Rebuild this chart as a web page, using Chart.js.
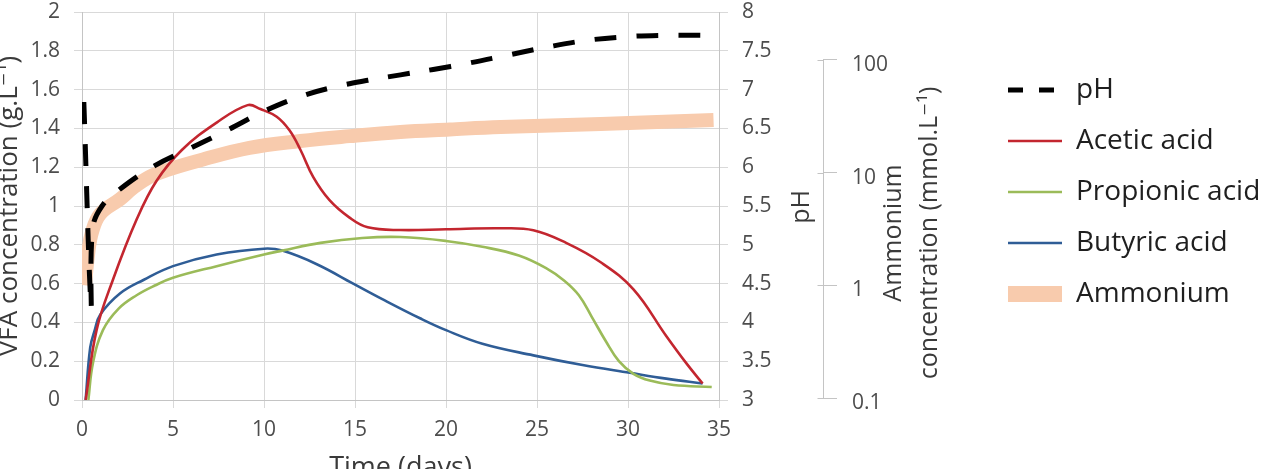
<!DOCTYPE html>
<html>
<head>
<meta charset="utf-8">
<script src="https://cdn.jsdelivr.net/npm/chart.js@4.4.1/dist/chart.umd.min.js"></script>
<style>
  html, body { margin: 0; padding: 0; background: #fff; }
  #frame { width: 1269px; height: 469px; overflow: hidden; }
  #box { width: 1269px; height: 490px; }
</style>
</head>
<body>
<div id="frame"><div id="box"><canvas id="myChart"></canvas></div></div>
<script>
// series (x = days)
const seriesLabels = ['pH', 'Acetic acid', 'Propionic acid', 'Butyric acid', 'Ammonium'];

const phDays = [0.1, 0.5, 0.58, 1.1, 2.1, 4.0, 6.0, 8.0, 10.0, 12.0, 13.8, 15.7, 17.5, 19.3, 21.2, 23.3, 25.4, 27.6, 29.8, 32.1, 34.5];
const phValues = [6.84, 4.2, 5.2, 5.5, 5.72, 6.02, 6.25, 6.48, 6.72, 6.91, 7.03, 7.12, 7.19, 7.26, 7.34, 7.44, 7.54, 7.63, 7.68, 7.7, 7.7];

const aceticDays = [0.2, 0.8, 1.7, 3.0, 4.1, 5.5, 7.4, 9.1, 9.8, 10.7, 11.4, 12.0, 12.7, 13.6, 14.7, 15.7, 17.5, 20, 23, 24.8, 26.6, 28.5, 30.3, 32.1, 33.2, 34.1];
const aceticValues = [0, 0.36, 0.62, 0.93, 1.13, 1.29, 1.43, 1.52, 1.5, 1.46, 1.39, 1.29, 1.15, 1.03, 0.94, 0.89, 0.876, 0.88, 0.885, 0.875, 0.81, 0.71, 0.57, 0.33, 0.19, 0.085];

const propionicDays = [0.35, 0.6, 1.15, 2.0, 3.0, 4.0, 5.0, 7.4, 10, 11, 13.1, 15.4, 17.5, 20, 22, 24, 25.5, 26.5, 27.3, 28.0, 28.8, 29.5, 30.3, 31.2, 32.5, 34.6];
const propionicValues = [0, 0.19, 0.36, 0.47, 0.54, 0.59, 0.63, 0.69, 0.75, 0.77, 0.81, 0.835, 0.84, 0.82, 0.79, 0.745, 0.68, 0.615, 0.54, 0.43, 0.3, 0.2, 0.135, 0.1, 0.077, 0.067];

const butyricDays = [0.2, 0.45, 0.7, 1.0, 2.1, 3.4, 5.0, 7.4, 10, 11, 12.9, 14.9, 16.5, 18.6, 20, 22, 24.8, 27.5, 30.1, 32.1, 34.1];
const butyricValues = [0, 0.27, 0.36, 0.44, 0.55, 0.62, 0.69, 0.75, 0.78, 0.77, 0.7, 0.6, 0.52, 0.42, 0.36, 0.29, 0.23, 0.18, 0.14, 0.11, 0.085];

// ammonium in mmol/L (log axis)
const ammoniumDays = [0.16, 0.33, 0.55, 1.0, 2.1, 2.8, 3.7, 4.7, 6.5, 9.2, 12.0, 14.7, 17.5, 20.2, 23.0, 28.5, 34.7];
const ammoniumValues = [1.0, 1.86, 2.97, 4.3, 5.84, 7.31, 9.15, 10.6, 12.9, 16.6, 19.1, 21.1, 23.0, 24.2, 25.4, 27.0, 29.3];

const dayTicks = [0, 5, 10, 15, 20, 25, 30, 35];
const vfaTicks = [0, 0.2, 0.4, 0.6, 0.8, 1, 1.2, 1.4, 1.6, 1.8, 2];
const phTicks = [3, 3.5, 4, 4.5, 5, 5.5, 6, 6.5, 7, 7.5, 8];
const ammoniumTicks = [0.1, 1, 10, 100];

const FAMILY = '"Open Sans", "DejaVu Sans", sans-serif';
const gridColor = '#D9D9D9';
const axisColor = '#C4C4C4';
const tickColor = '#4D4D4D';
const titleColor = '#3A3A3A';

Chart.defaults.font.family = FAMILY;

function toPoints(xs, ys) {
  return xs.map((x, i) => ({ x: x, y: ys[i] }));
}

function setTicks(values) {
  return scale => { scale.ticks = values.map(v => ({ value: v })); };
}

// fixed box size for a side axis; labels may hang over the plot edges
function fixWidth(w) {
  return scale => {
    scale.width = w;
    scale.paddingTop = 0;
    scale.paddingBottom = 0;
  };
}

function rotatedText(ctx, text, x, y, size) {
  ctx.save();
  ctx.font = `${size}px ${FAMILY}`;
  ctx.translate(x, y);
  ctx.rotate(-Math.PI / 2);
  ctx.fillText(text, 0, 0);
  ctx.restore();
}

// titles of the two right axes read bottom-to-top, plus the short ammonium axis line
const extraAxisText = {
  id: 'extraAxisText',
  afterDraw(chart) {
    const { ctx, chartArea } = chart;
    const ph = chart.scales.ph;
    const nh4 = chart.scales.nh4;
    ctx.save();
    ctx.strokeStyle = axisColor;
    ctx.lineWidth = 1;
    const x = Math.round(nh4.left) + 0.5;
    ctx.beginPath();
    ctx.moveTo(x, nh4.getPixelForValue(ammoniumTicks[ammoniumTicks.length - 1]));
    ctx.lineTo(x, nh4.getPixelForValue(ammoniumTicks[0]));
    ammoniumTicks.forEach(v => {
      const y = Math.round(nh4.getPixelForValue(v)) + 0.5;
      ctx.moveTo(x - 6, y);
      ctx.lineTo(x, y);
    });
    ctx.stroke();

    ctx.fillStyle = titleColor;
    ctx.textAlign = 'center';
    ctx.textBaseline = 'alphabetic';
    const mid = (chartArea.top + chartArea.bottom) / 2;
    rotatedText(ctx, 'pH', ph.left + 90, mid + 1, 25);
    rotatedText(ctx, 'Ammonium', nh4.left + 78, mid + 27, 25);
    rotatedText(ctx, 'concentration (mmol.L\u207B\u00B9)', nh4.left + 114, mid + 27, 25);
    ctx.restore();
  }
};

const legendLineWidths = [5, 2.6, 2.6, 2.6, 16];
const legendDashes = [[15, 16], [], [], [], []];

const tickFont = { size: 21 };

new Chart(document.getElementById('myChart'), {
  type: 'line',
  data: {
    datasets: [
      {
        label: seriesLabels[0],
        data: toPoints(phDays, phValues),
        yAxisID: 'ph',
        borderColor: '#000000',
        borderWidth: 5,
        borderDash: [22, 20],
        order: 0,
      },
      {
        label: seriesLabels[1],
        data: toPoints(aceticDays, aceticValues),
        yAxisID: 'y',
        borderColor: '#C3262F',
        borderWidth: 2.6,
        order: 1,
      },
      {
        label: seriesLabels[2],
        data: toPoints(propionicDays, propionicValues),
        yAxisID: 'y',
        borderColor: '#9BBB59',
        borderWidth: 2.6,
        order: 2,
      },
      {
        label: seriesLabels[3],
        data: toPoints(butyricDays, butyricValues),
        yAxisID: 'y',
        borderColor: '#2F5D96',
        borderWidth: 2.6,
        order: 3,
      },
      {
        label: seriesLabels[4],
        data: toPoints(ammoniumDays, ammoniumValues),
        yAxisID: 'nh4',
        borderColor: '#F8CBAD',
        borderWidth: 14,
        order: 4,
      },
    ],
  },
  options: {
    responsive: true,
    maintainAspectRatio: false,
    animation: false,
    layout: { padding: { top: 12, left: 0, right: 0, bottom: 0 } },
    elements: {
      point: { radius: 0, hoverRadius: 0 },
      line: { tension: 0.4, borderCapStyle: 'butt', borderJoinStyle: 'round', fill: false },
    },
    plugins: {
      tooltip: { enabled: false },
      legend: {
        position: 'right',
        align: 'start',
        maxWidth: 284,
        title: { display: true, text: ' ', font: { size: 10 }, padding: { top: 29, bottom: 0 } },
        labels: {
          usePointStyle: true,
          pointStyleWidth: 54,
          padding: 23,
          color: '#1F1F1F',
          font: { size: 28 },
          generateLabels: chart => chart.data.datasets.map((ds, i) => ({
            text: ds.label,
            fillStyle: ds.borderColor,
            strokeStyle: ds.borderColor,
            fontColor: '#1F1F1F',
            lineWidth: legendLineWidths[i],
            lineDash: legendDashes[i],
            lineCap: 'butt',
            pointStyle: 'line',
            datasetIndex: i,
            hidden: false,
          })),
        },
      },
    },
    scales: {
      x: {
        type: 'linear',
        min: 0,
        max: 35,
        bounds: 'data',
        afterBuildTicks: setTicks(dayTicks),
        afterFit: scale => {
          scale.height = 90;
          scale.paddingLeft = 0;
          scale.paddingRight = 0;
        },
        grid: { color: gridColor, tickLength: 8 },
        border: { color: axisColor },
        ticks: { color: tickColor, font: tickFont, padding: 9, maxRotation: 0, callback: v => String(v) },
        title: {
          display: true,
          text: 'Time (days)',
          color: titleColor,
          font: { size: 27, lineHeight: 0.7 },
          padding: { top: 0, bottom: 12 },
        },
      },
      y: {
        type: 'linear',
        position: 'left',
        min: 0,
        max: 2,
        bounds: 'data',
        afterBuildTicks: setTicks(vfaTicks),
        afterFit: fixWidth(82),
        grid: { color: gridColor, tickLength: 8 },
        border: { color: axisColor },
        ticks: { color: tickColor, font: tickFont, padding: 14, callback: v => String(v) },
        title: {
          display: true,
          text: 'VFA concentration (g.L\u207B\u00B9)',
          color: titleColor,
          font: { size: 26, lineHeight: 0.7 },
          padding: 0,
        },
      },
      ph: {
        type: 'linear',
        position: 'right',
        min: 3,
        max: 8,
        bounds: 'data',
        afterBuildTicks: setTicks(phTicks),
        afterFit: fixWidth(104),
        grid: { drawOnChartArea: false, color: gridColor, tickLength: 9 },
        border: { color: axisColor },
        ticks: { color: tickColor, font: tickFont, padding: 14, callback: v => String(v) },
      },
      nh4: {
        type: 'logarithmic',
        position: 'right',
        min: 0.096,
        max: 266.7,
        bounds: 'data',
        afterBuildTicks: setTicks(ammoniumTicks),
        afterFit: fixWidth(162),
        grid: { drawOnChartArea: false, color: axisColor, tickLength: 14 },
        border: { display: false },
        ticks: { color: tickColor, font: tickFont, padding: 15, labelOffset: 5, callback: v => String(v) },
      },
    },
  },
  plugins: [extraAxisText],
});
</script>
</body>
</html>
